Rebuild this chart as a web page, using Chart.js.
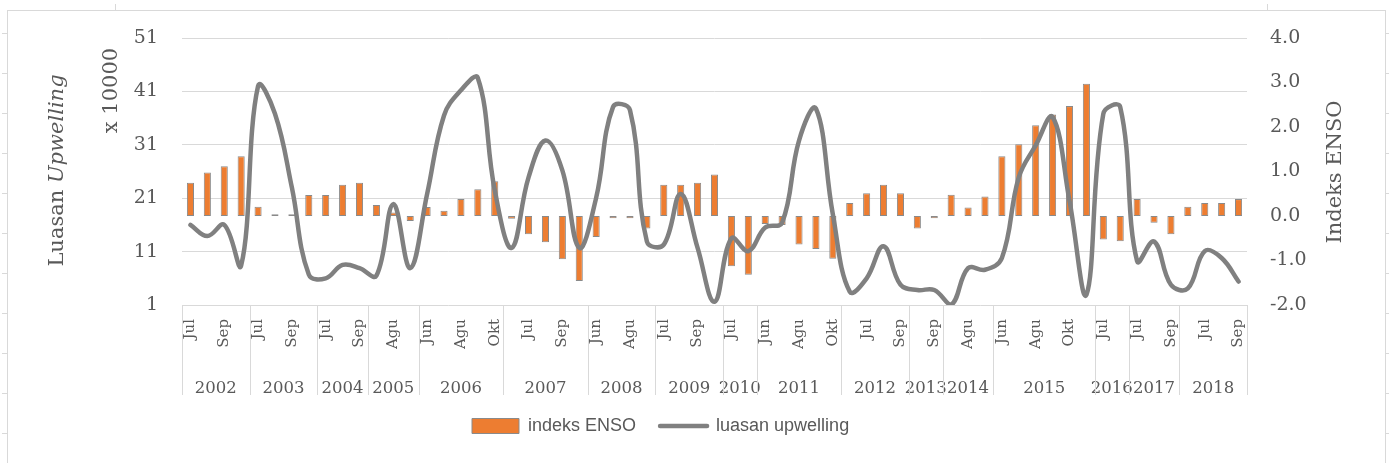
<!DOCTYPE html>
<html><head><meta charset="utf-8">
<script src="https://cdn.jsdelivr.net/npm/chart.js@4.4.1/dist/chart.umd.min.js"></script>
<style>
html,body{margin:0;padding:0;background:#fff;}
#wrap{position:relative;width:1389px;height:463px;overflow:hidden;}
#frame{position:absolute;left:7px;top:10px;width:1379px;height:470px;border:1px solid #d9d9d9;box-sizing:border-box;}
canvas{position:absolute;left:0;top:0;}
</style></head><body>
<div id="wrap"><div id="frame"></div><canvas id="c" width="1389" height="463"></canvas></div>
<script>
// ---- data ----
const years = [
 '2002','2002','2002','2002',
 '2003','2003','2003','2003',
 '2004','2004','2004',
 '2005','2005','2005',
 '2006','2006','2006','2006','2006',
 '2007','2007','2007','2007','2007',
 '2008','2008','2008','2008',
 '2009','2009','2009','2009',
 '2010','2010',
 '2011','2011','2011','2011','2011',
 '2012','2012','2012','2012',
 '2013','2013',
 '2014','2014','2014',
 '2015','2015','2015','2015','2015','2015',
 '2016','2016',
 '2017','2017','2017',
 '2018','2018','2018','2018'];
const months = [
 'Jul','Agu','Sep','Okt',
 'Jul','Agu','Sep','Okt',
 'Jul','Agu','Sep',
 'Jul','Agu','Sep',
 'Jun','Jul','Agu','Sep','Okt',
 'Jun','Jul','Agu','Sep','Okt',
 'Jun','Jul','Agu','Sep',
 'Jul','Agu','Sep','Okt',
 'Jul','Agu',
 'Jun','Jul','Agu','Sep','Okt',
 'Jun','Jul','Agu','Sep',
 'Agu','Sep',
 'Jul','Agu','Sep',
 'Jun','Jul','Agu','Sep','Okt','Nov',
 'Jul','Agu',
 'Jul','Agu','Sep',
 'Jun','Jul','Agu','Sep'];
const ensoIndex = [
 0.75,0.98,1.12,1.34,
 0.21,0.04,0.04,0.47,
 0.47,0.70,0.75,
 0.25,0.08,-0.11,
 0.20,0.12,0.38,0.60,0.78,
 -0.06,-0.41,-0.59,-0.97,-1.46,
 -0.47,-0.05,-0.05,-0.28,
 0.70,0.70,0.75,0.93,
 -1.13,-1.32,
 -0.18,-0.20,-0.64,-0.74,-0.96,
 0.29,0.51,0.70,0.51,
 -0.28,-0.05,
 0.48,0.19,0.44,
 1.34,1.61,2.04,2.28,2.47,2.97,
 -0.53,-0.57,
 0.38,-0.15,-0.41,
 0.21,0.29,0.29,0.38];
const upwellingArea = [
 16.0,13.9,16.0,8.4,
 42.0,36.8,23.0,6.7,
 6.0,8.5,7.9,
 6.5,19.9,7.9,
 21.8,36.5,41.2,43.5,22.5,
 11.7,24.9,31.8,26.2,11.7,
 21.1,38.1,37.5,12.9,
 12.3,21.8,11.7,1.6,
 13.5,11.1,
 15.5,16.4,31.8,37.8,18.0,
 3.5,6.0,12.0,4.8,
 3.8,3.8,
 1.0,7.9,7.6,
 9.8,24.9,30.9,36.2,20.5,2.9,
 36.8,38.1,
 9.2,12.9,4.8,
 4.1,11.1,9.8,5.4];
const leftAxis = {min: 1, max: 51, step: 10};
const rightAxis = {min: -2, max: 4, step: 1};

// year groups derived from the years list
const groups = [];
years.forEach((y, i) => {
  const g = groups[groups.length - 1];
  if (g && g.year === y) g.end = i; else groups.push({year: y, start: i, end: i});
});

const GRID = '#d9d9d9';
const TXT = '#595959';
const SERIF = 'DejaVu Serif';

const deco = {
  id: 'deco',
  afterLayout(chart) {
    const lg = chart.legend;
    if (!lg || !lg.lineWidths) return;
    const p = lg.options.labels.padding;
    const cur = (lg.left + p + lg.right - lg.lineWidths[0]) / 2;
    const dx = 472 - cur;
    lg.left += dx; lg.right += dx;
    const dy = 393 - lg.top;
    lg.top += dy; lg.bottom += dy;
  },
  beforeDraw(chart) {
    const ctx = chart.ctx;
    ctx.save();
    ctx.strokeStyle = GRID; ctx.lineWidth = 1;
    ctx.beginPath();
    for (let y = 33.5; y < 463; y += 40) {
      ctx.moveTo(2, y); ctx.lineTo(7, y);
      ctx.moveTo(1386, y); ctx.lineTo(1389, y);
    }
    ctx.moveTo(115.5, 4); ctx.lineTo(115.5, 10);
    ctx.moveTo(1267.5, 4); ctx.lineTo(1267.5, 10);
    ctx.stroke();
    ctx.restore();
  },
  afterDraw(chart) {
    const ctx = chart.ctx;
    const xs = chart.scales.x2;
    const top = chart.chartArea.bottom;
    const bottom = xs.bottom;
    ctx.save();
    ctx.strokeStyle = GRID; ctx.lineWidth = 1;
    ctx.beginPath();
    const bounds = groups.map(g => g.start - 0.5);
    bounds.push(groups[groups.length - 1].end + 0.5);
    bounds.forEach(b => {
      const px = Math.round(xs.getPixelForValue(b)) + 0.5;
      ctx.moveTo(px, top); ctx.lineTo(px, bottom);
    });
    ctx.stroke();

    // axis titles
    ctx.fillStyle = TXT;
    ctx.textBaseline = 'middle';
    const reg = '21px "' + SERIF + '"';
    const ita = 'italic 21px "' + SERIF + '"';
    ctx.save();
    ctx.translate(58, 170.5);
    ctx.rotate(-Math.PI / 2);
    ctx.font = reg; const w1 = ctx.measureText('Luasan ').width;
    ctx.font = ita; const w2 = ctx.measureText('Upwelling').width;
    let x0 = -(w1 + w2) / 2;
    ctx.textAlign = 'left';
    ctx.font = reg; ctx.fillText('Luasan ', x0, 0);
    ctx.font = ita; ctx.fillText('Upwelling', x0 + w1, 0);
    ctx.restore();
    ctx.save();
    ctx.translate(112, 90.5);
    ctx.rotate(-Math.PI / 2);
    ctx.font = reg; ctx.textAlign = 'center';
    ctx.fillText('x 10000', 0, 0);
    ctx.restore();
    ctx.save();
    ctx.translate(1336, 172);
    ctx.rotate(-Math.PI / 2);
    ctx.font = reg; ctx.textAlign = 'center';
    ctx.fillText('Indeks ENSO', 0, 0);
    ctx.restore();
    ctx.restore();
  }
};

new Chart(document.getElementById('c'), {
  data: {
    labels: months,
    datasets: [
      {
        type: 'bar', label: 'indeks ENSO', data: ensoIndex,
        xAxisID: 'x', yAxisID: 'y1', order: 1,
        backgroundColor: '#ED7D31', borderColor: '#8a8a8a', borderWidth: 1,
        borderSkipped: false, barPercentage: 0.42, categoryPercentage: 1
      },
      {
        type: 'line', label: 'luasan upwelling', data: upwellingArea,
        xAxisID: 'x', yAxisID: 'y', order: 0,
        borderColor: '#808080', backgroundColor: '#808080', borderWidth: 4.5,
        borderCapStyle: 'round', borderJoinStyle: 'round',
        tension: 0.4, pointRadius: 0, pointHoverRadius: 0, fill: false
      }
    ]
  },
  options: {
    responsive: false, animation: false, devicePixelRatio: 1,
    layout: {padding: {left: 0, right: 0, top: 38, bottom: 16}},
    font: {family: SERIF},
    plugins: {
      tooltip: {enabled: false},
      legend: {
        position: 'bottom',
        labels: {
          usePointStyle: true, pointStyleWidth: 47, boxHeight: 15, padding: 24,
          color: TXT, font: {family: 'Liberation Sans', size: 18},
          sort: (a, b) => a.datasetIndex - b.datasetIndex,
          generateLabels(chart) {
            const items = Chart.defaults.plugins.legend.labels.generateLabels(chart);
            items.forEach(it => {
              if (it.datasetIndex === 0) { it.pointStyle = 'rect'; it.lineWidth = 1; }
              else { it.pointStyle = 'line'; it.lineWidth = 4.5; it.lineCap = 'round'; }
            });
            return items;
          }
        }
      }
    },
    scales: {
      x: {
        type: 'category', position: 'bottom', offset: true, weight: 0,
        grid: {display: false}, border: {display: false},
        ticks: {
          autoSkip: false, maxRotation: 90, minRotation: 90, padding: 6,
          color: TXT, font: {family: SERIF, size: 15},
          callback(val, idx) { return idx % 2 === 0 ? this.getLabelForValue(val) : ''; }
        },
        afterFit(s) { s.height = 60; }
      },
      x2: {
        type: 'linear', position: 'bottom', weight: 1,
        min: -0.5, max: groups[groups.length - 1].end + 0.5,
        grid: {display: false}, border: {display: false},
        afterBuildTicks(s) { s.ticks = groups.map(g => ({value: (g.start + g.end) / 2})); },
        ticks: {
          autoSkip: false, maxRotation: 0, minRotation: 0, padding: 6,
          color: TXT, font: {family: SERIF, size: 16.5},
          callback(val) {
            const g = groups.find(g => Math.abs((g.start + g.end) / 2 - val) < 1e-6);
            return g ? g.year : '';
          }
        },
        afterFit(s) { s.height = 30; }
      },
      y: {
        position: 'left', min: leftAxis.min, max: leftAxis.max,
        grid: {color: GRID, drawTicks: false, lineWidth: 1}, border: {display: false},
        ticks: {stepSize: leftAxis.step, padding: 24, color: TXT, font: {family: SERIF, size: 19}},
        afterFit(s) { s.width = 182; }
      },
      y1: {
        position: 'right', min: rightAxis.min, max: rightAxis.max,
        grid: {display: false, drawOnChartArea: false, drawTicks: false}, border: {display: false},
        ticks: {stepSize: rightAxis.step, padding: 23, color: TXT, font: {family: SERIF, size: 19},
          callback(v) { return Number(v).toFixed(1); }},
        afterFit(s) { s.width = 142; }
      }
    }
  },
  plugins: [deco]
});
</script>
</body></html>
